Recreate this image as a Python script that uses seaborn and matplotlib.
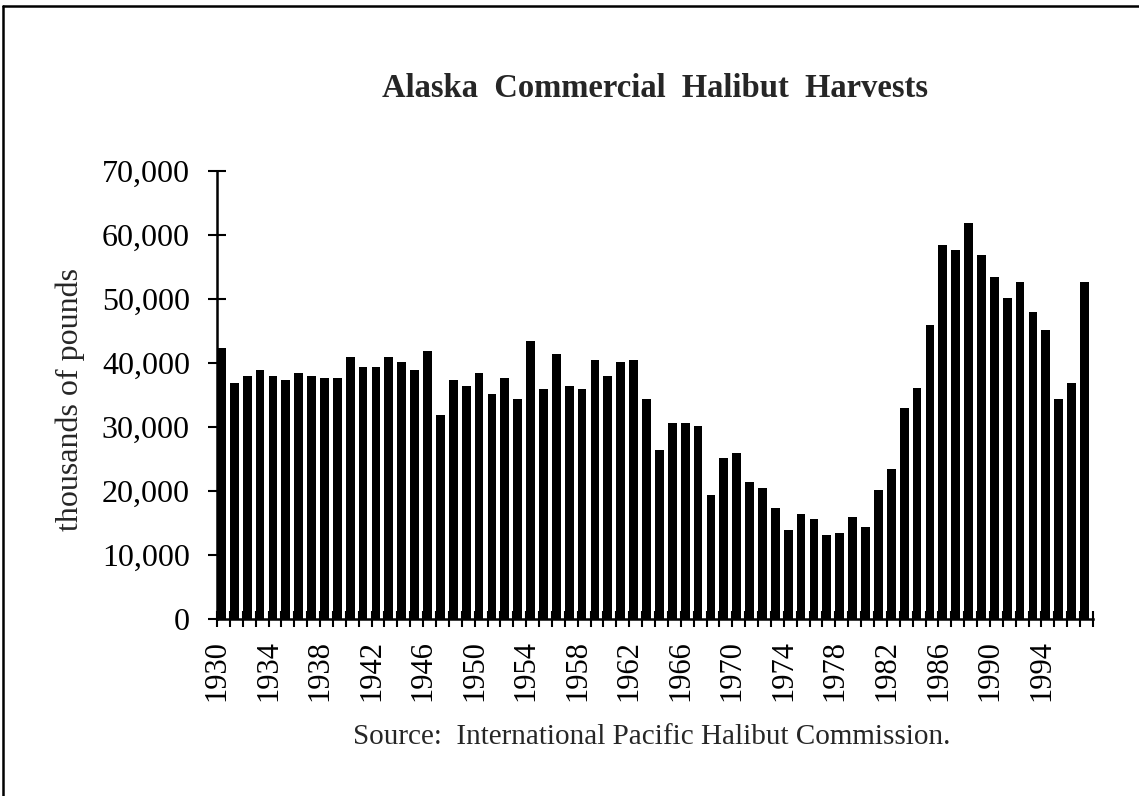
# %% MODULE BEGINS
module_name = 'halibut_chart'

'''
Description:
    Bar chart of Alaska commercial halibut harvests, 1930-1997
'''

# %% IMPORTS                    ~~~~~~~~~~~~~~~~~~~~~~~~~~~~~~~~~~~~~~~~~~~~
from matplotlib import pyplot as plt
from matplotlib.lines import Line2D
from matplotlib.ticker import FuncFormatter
import numpy as np
import pandas as pd
import seaborn as sns

# %% CONSTANTS                   ~~~~~~~~~~~~~~~~~~~~~~~~~~~~~~~~~~~~~~~~~~~~
years = list(range(1930, 1998))

# thousands of pounds
harvest = [
    42300, 36800, 38000, 38900, 38000, 37300, 38500, 38000, 37600, 37600,   # 1930s
    41000, 39300, 39300, 41000, 40100, 38900, 41800, 31800, 37300, 36400,   # 1940s
    38500, 35100, 37600, 34300, 43500, 36000, 41400, 36400, 36000, 40500,   # 1950s
    38000, 40100, 40500, 34300, 26400, 30600, 30600, 30100, 19300, 25200,   # 1960s
    26000, 21400, 20500, 17300, 13900, 16400, 15600, 13100, 13500, 16000,   # 1970s
    14300, 20200, 23500, 33000, 36100, 46000, 58500, 57600, 61800, 56800,   # 1980s
    53500, 50100, 52600, 48000, 45100, 34300, 36800, 52600,                 # 1990s
]

y_ticks = [0, 10000, 20000, 30000, 40000, 50000, 60000, 70000]
label_every = 4

title_text = 'Alaska  Commercial  Halibut  Harvests'
y_title = 'thousands of pounds'
source_text = 'Source:  International Pacific Halibut Commission.'

BAR_W = 0.68

# %% MAIN CODE                  ~~~~~~~~~~~~~~~~~~~~~~~~~~~~~~~~~~~~~~~~~~~~
def main():
    df = pd.DataFrame({'year': [str(y) for y in years], 'harvest': harvest})

    sns.set_style('ticks')
    plt.rcParams['font.family'] = ['Liberation Serif', 'DejaVu Serif']

    fig = plt.figure(figsize=(11.39, 7.96), dpi=100)
    ax = fig.add_axes([0.1905, 0.2224, 0.7691, 0.5628])

    sns.barplot(data=df, x='year', y='harvest', color='black', width=BAR_W,
                saturation=1, edgecolor='black', linewidth=0, ax=ax)

    # ticks sit on the left edge of each bar, like the original
    n = len(years)
    edges = np.arange(n + 1) - BAR_W / 2
    ax.set_xlim(edges[0], edges[-1])
    ax.set_xticks(edges[:-1:label_every])
    ax.set_xticklabels([str(y) for y in years[::label_every]], rotation=90)
    ax.set_xticks(edges, minor=True)

    ax.set_ylim(0, 70000)
    ax.set_yticks(y_ticks)
    ax.yaxis.set_major_formatter(FuncFormatter(lambda v, p: f'{v:,.0f}'))

    ax.set_xlabel('')
    ax.set_ylabel(y_title, fontsize=23)
    ax.yaxis.set_label_coords(-0.151, 0.49)

    sns.despine(ax=ax)
    for side in ['left', 'bottom']:
        ax.spines[side].set_linewidth(1.8)
        ax.spines[side].set_color('black')

    ax.tick_params(axis='y', which='major', direction='inout', length=13,
                   width=1.5, labelsize=23, pad=13, colors='black')
    ax.tick_params(axis='x', which='both', direction='inout', length=12,
                   width=1.5, labelsize=22, pad=9, colors='black')

    fig.text(0.575, 0.889, title_text, ha='center', va='center',
             fontsize=23.5, fontweight='bold')
    fig.text(0.572, 0.074, source_text, ha='center', va='center', fontsize=21)

    # frame lines on the top and left of the picture
    fig.add_artist(Line2D([0.003, 1.0], [0.993, 0.993], color='black', lw=1.8,
                          transform=fig.transFigure))
    fig.add_artist(Line2D([0.003, 0.003], [0.0, 0.993], color='black', lw=1.8,
                          transform=fig.transFigure))

    fig.savefig('out.png', dpi=100)
    plt.close(fig)


# %% SELF-RUN                   ~~~~~~~~~~~~~~~~~~~~~~~~~~~~~~~~~~~~~~~~~~~~
if __name__ == "__main__":
    main()
